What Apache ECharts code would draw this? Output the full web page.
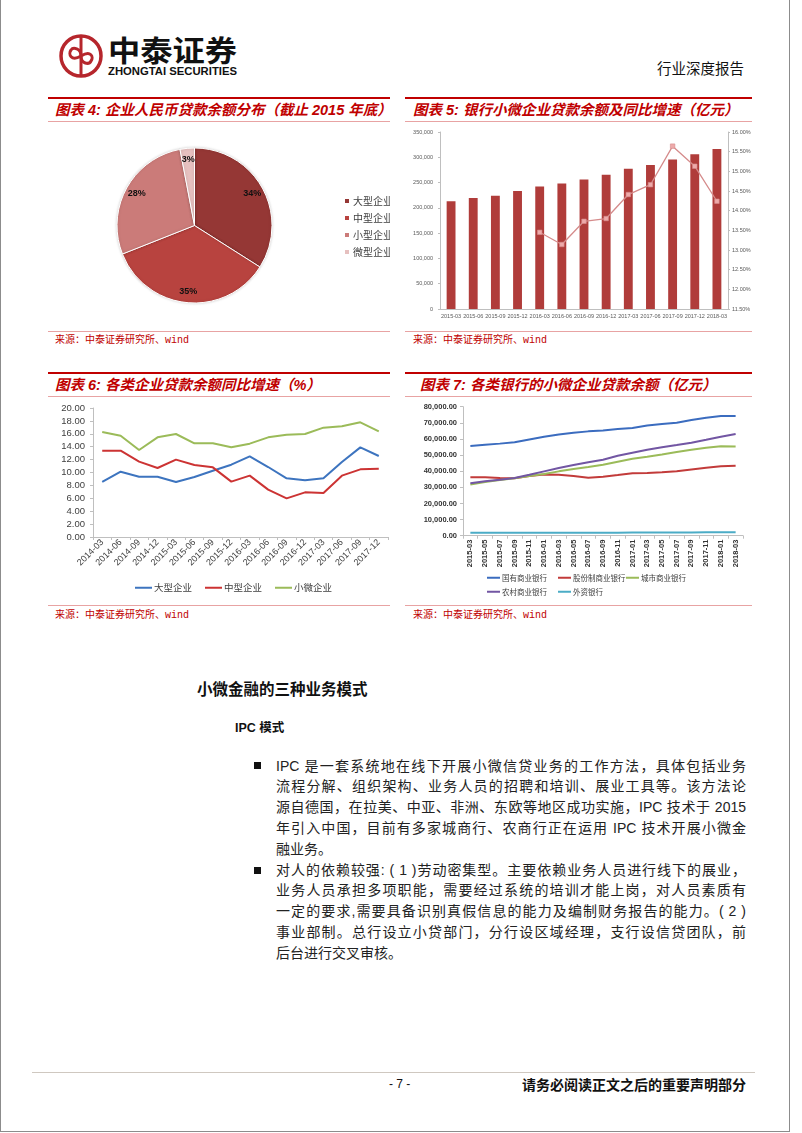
<!DOCTYPE html>
<html><head><meta charset="utf-8">
<script src="https://cdn.jsdelivr.net/npm/echarts@6/dist/echarts.min.js"></script>
<style>
html,body{margin:0;padding:0;}
body{width:802px;height:1133px;position:relative;background:#fff;overflow:hidden;font-family:"Liberation Sans","Noto Sans CJK SC",sans-serif;}
.frame{position:absolute;left:0;top:0;width:790px;height:1132px;border-left:1px solid #8c8c8c;border-right:1px solid #8c8c8c;border-bottom:1px solid #8c8c8c;box-sizing:border-box;}
.redline{position:absolute;height:2px;background:#c00000;}
.pinkline{position:absolute;height:1px;background:#e8a3a3;}
.title{position:absolute;color:#c00000;font-weight:bold;font-style:italic;font-size:14.5px;line-height:18px;white-space:nowrap;font-family:"Liberation Sans","Noto Sans CJK SC",sans-serif;}
.src{position:absolute;color:#c00000;font-size:10px;line-height:12px;white-space:nowrap;font-family:"Liberation Mono","Noto Sans CJK SC",sans-serif;}
.chart{position:absolute;}
.ln{position:absolute;left:276px;width:470px;font-size:14px;line-height:21px;height:21px;text-align:justify;text-align-last:justify;color:#222;font-family:"Liberation Sans","Noto Sans CJK SC",sans-serif;}
.ln.last{text-align-last:left;}
.bullet{position:absolute;left:254px;width:7px;height:7px;background:#111;}
</style>
</head>
<body>
<div class="frame"></div>

<!-- header logo -->
<svg style="position:absolute;left:40px;top:25px" width="230" height="60">
  <circle cx="41" cy="31" r="20" fill="none" stroke="#b6262c" stroke-width="3.5"/>
  <line x1="41" y1="12" x2="41" y2="50" stroke="#b6262c" stroke-width="3"/>
  <path d="M41 31 C41 23 33 22 31 25 C28 29 31 37 41 31 C51 25 54 32 51 36 C49 40 41 39 41 31" fill="none" stroke="#b6262c" stroke-width="3"/>
  <text x="68" y="37" font-size="29" font-weight="bold" fill="#111" textLength="129" lengthAdjust="spacingAndGlyphs" font-family="Noto Sans CJK SC">中泰证券</text>
  <text x="68" y="50" font-size="10" font-weight="bold" fill="#111" textLength="129" lengthAdjust="spacingAndGlyphs" font-family="Liberation Sans">ZHONGTAI SECURITIES</text>
</svg>
<div style="position:absolute;left:657px;top:59px;font-size:14.5px;line-height:18px;color:#111;font-family:'Noto Sans CJK SC';">行业深度报告</div>

<!-- panel decorations -->
<div class="redline" style="left:48px;top:97px;width:342px;"></div>
<div class="redline" style="left:405px;top:97px;width:347px;"></div>
<div class="title" style="left:55px;top:101px;">图表 4:&nbsp;企业人民币贷款余额分布（截止 2015 年底）</div>
<div class="title" style="left:413px;top:101px;">图表 5:&nbsp;银行小微企业贷款余额及同比增速（亿元）</div>
<div class="pinkline" style="left:48px;top:121px;width:342px;"></div>
<div class="pinkline" style="left:405px;top:121px;width:347px;"></div>
<div class="pinkline" style="left:48px;top:331px;width:342px;"></div>
<div class="pinkline" style="left:405px;top:331px;width:347px;"></div>
<div class="src" style="left:55px;top:335px;">来源：中泰证券研究所、wind</div>
<div class="src" style="left:413px;top:335px;">来源：中泰证券研究所、wind</div>

<div class="redline" style="left:48px;top:372px;width:342px;"></div>
<div class="redline" style="left:405px;top:372px;width:347px;"></div>
<div class="title" style="left:55px;top:376px;">图表 6:&nbsp;各类企业贷款余额同比增速（%）</div>
<div class="title" style="left:420px;top:376px;">图表 7:&nbsp;各类银行的小微企业贷款余额（亿元）</div>
<div class="pinkline" style="left:48px;top:396px;width:342px;"></div>
<div class="pinkline" style="left:405px;top:396px;width:347px;"></div>
<div class="pinkline" style="left:48px;top:605px;width:342px;"></div>
<div class="pinkline" style="left:405px;top:605px;width:347px;"></div>
<div class="src" style="left:55px;top:610px;">来源：中泰证券研究所、wind</div>
<div class="src" style="left:413px;top:610px;">来源：中泰证券研究所、wind</div>

<div id="c4" class="chart" style="left:48px;top:125px;width:342px;height:200px;"></div>
<div id="c5" class="chart" style="left:405px;top:125px;width:365px;height:200px;"></div>
<div id="c6" class="chart" style="left:48px;top:398px;width:342px;height:205px;"></div>
<div id="c7" class="chart" style="left:405px;top:398px;width:365px;height:205px;"></div>

<!-- body text -->
<div style="position:absolute;left:197px;top:678px;font-size:15.5px;line-height:20px;font-weight:bold;color:#111;font-family:'Noto Sans CJK SC';white-space:nowrap;">小微金融的三种业务模式</div>
<div style="position:absolute;left:235px;top:719px;font-size:12.5px;line-height:18px;font-weight:bold;color:#111;font-family:'Liberation Sans','Noto Sans CJK SC';white-space:nowrap;">IPC 模式</div>

<div class="bullet" style="top:762px;"></div>
<div class="ln" style="top:755.5px;">IPC 是一套系统地在线下开展小微信贷业务的工作方法，具体包括业务</div>
<div class="ln" style="top:776.3px;">流程分解、组织架构、业务人员的招聘和培训、展业工具等。该方法论</div>
<div class="ln" style="top:797.1px;">源自德国，在拉美、中亚、非洲、东欧等地区成功实施，IPC 技术于 2015</div>
<div class="ln" style="top:817.9px;">年引入中国，目前有多家城商行、农商行正在运用 IPC 技术开展小微金</div>
<div class="ln last" style="top:838.7px;">融业务。</div>
<div class="bullet" style="top:866.5px;"></div>
<div class="ln" style="top:859.5px;">对人的依赖较强: ( 1 )劳动密集型。主要依赖业务人员进行线下的展业，</div>
<div class="ln" style="top:880.3px;">业务人员承担多项职能，需要经过系统的培训才能上岗，对人员素质有</div>
<div class="ln" style="top:901.1px;">一定的要求,需要具备识别真假信息的能力及编制财务报告的能力。( 2 )</div>
<div class="ln" style="top:921.9px;">事业部制。总行设立小贷部门，分行设区域经理，支行设信贷团队，前</div>
<div class="ln last" style="top:942.7px;">后台进行交叉审核。</div>

<!-- footer -->
<div style="position:absolute;left:32px;top:1072px;width:723px;height:1px;background:#cfc8c0;"></div>
<div style="position:absolute;left:389px;top:1076px;font-size:12px;line-height:16px;color:#111;white-space:nowrap;">- 7 -</div>
<div style="position:absolute;left:522px;top:1075px;font-size:14px;line-height:18px;font-weight:bold;color:#111;font-family:'Noto Sans CJK SC';white-space:nowrap;">请务必阅读正文之后的重要声明部分</div>

<script>
// ---------- data ----------
const pieNames = ['大型企业', '中型企业', '小型企业', '微型企业'];
const pieValues = [34, 35, 28, 3];

const c5Cats = ['2015-03','2015-06','2015-09','2015-12','2016-03','2016-06','2016-09','2016-12','2017-03','2017-06','2017-09','2017-12','2018-03'];
const c5Loans = [213000, 219500, 224000, 233500, 242000, 248000, 256000, 265500, 277500, 284500, 295500, 306000, 316500];
const c5Growth = [null, null, null, null, 13.45, 13.14, 13.73, 13.80, 14.41, 14.66, 15.64, 15.13, 14.24];

const c6Cats = ['2014-03','2014-06','2014-09','2014-12','2015-03','2015-06','2015-09','2015-12','2016-03','2016-06','2016-09','2016-12','2017-03','2017-06','2017-09','2017-12'];
const c6Names = ['大型企业', '中型企业', '小微企业'];
const c6Large = [8.53, 10.13, 9.35, 9.35, 8.53, 9.30, 10.28, 11.21, 12.51, 10.85, 9.10, 8.79, 9.10, 11.63, 13.90, 12.56];
const c6Medium = [13.38, 13.38, 11.68, 10.70, 11.99, 11.16, 10.80, 8.58, 9.51, 7.34, 5.99, 6.92, 6.82, 9.51, 10.49, 10.59];
const c6Small = [16.28, 15.71, 13.49, 15.45, 15.97, 14.52, 14.52, 13.90, 14.47, 15.45, 15.86, 15.97, 16.95, 17.16, 17.78, 16.38];

const c7Cats = ['2015-03','2015-05','2015-07','2015-09','2015-11','2016-01','2016-03','2016-05','2016-07','2016-09','2016-11','2017-01','2017-03','2017-05','2017-07','2017-09','2017-11','2018-01','2018-03'];
const c7Names = ['国有商业银行', '股份制商业银行', '城市商业银行', '农村商业银行', '外资银行'];
const c7State = [55600, 56400, 57100, 57900, 59700, 61400, 62800, 63900, 64700, 65300, 66200, 66800, 68400, 69300, 70100, 71700, 73200, 74200, 74300];
const c7JointStock = [36200, 36200, 35800, 35600, 37000, 38000, 37800, 37000, 36000, 36600, 37600, 38700, 38900, 39300, 39900, 41100, 42200, 43000, 43400];
const c7City = [31800, 33300, 34500, 35600, 37000, 38200, 39900, 41300, 42600, 44000, 45900, 47700, 49000, 50400, 51900, 53300, 54600, 55400, 55300];
const c7Rural = [32500, 33700, 34700, 35800, 37800, 39900, 42000, 43800, 45500, 47100, 49600, 51500, 53300, 54800, 56200, 57700, 59500, 61400, 63100];
const c7Foreign = [1900, 1900, 1850, 1850, 1850, 1800, 1850, 1850, 1900, 1900, 1900, 1950, 1950, 2000, 2000, 2050, 2100, 2150, 2200];

// ---------- styles ----------
const CJK = '"Noto Sans CJK SC", sans-serif';
const LAT = '"Liberation Sans", "Noto Sans CJK SC", sans-serif';
const pieColors = ['#953735', '#b8433f', '#cb7b79', '#e6c0bf'];

// ---------- chart 4: pie ----------
const pieData = pieNames.map((n, i) => ({ name: n, value: pieValues[i] }));
echarts.init(document.getElementById('c4')).setOption({
  animation: false,
  color: pieColors,
  legend: {
    orient: 'vertical', left: 290, top: 65, icon: 'rect',
    itemWidth: 6, itemHeight: 6, itemGap: 5,
    textStyle: { fontSize: 10, color: '#404040', lineHeight: 12, fontFamily: CJK, padding: [0, 0, 0, -2] },
    data: pieNames
  },
  series: [
    {
      type: 'pie', radius: 77.5, center: [146.5, 100.5], startAngle: 90, clockwise: true,
      silent: true, data: pieData, label: { show: false }, labelLine: { show: false },
      itemStyle: { borderColor: '#fff', borderWidth: 1, shadowBlur: 3, shadowColor: 'rgba(0,0,0,0.18)' }
    },
    {
      type: 'pie', radius: 126, center: [146.5, 100.5], startAngle: 90, clockwise: true,
      silent: true, legendHoverLink: false, data: pieData,
      itemStyle: { color: 'rgba(0,0,0,0)', borderWidth: 0 }, labelLine: { show: false },
      label: { show: true, position: 'inside', formatter: p => p.value + '%', fontSize: 9, fontWeight: 'bold', color: '#111', fontFamily: LAT, textBorderWidth: 0 }
    }
  ]
});

// ---------- chart 5: bar + line ----------
const axGray = '#bfbfbf';
echarts.init(document.getElementById('c5')).setOption({
  animation: false,
  grid: { left: 35, right: 42, top: 7, bottom: 16 },
  xAxis: {
    type: 'category', data: c5Cats,
    axisLine: { lineStyle: { color: axGray } }, axisTick: { show: false },
    axisLabel: { fontSize: 5.5, color: '#595959', margin: 5, interval: 0, fontFamily: LAT }
  },
  yAxis: [
    {
      type: 'value', min: 0, max: 350000, interval: 50000,
      axisLine: { show: true, lineStyle: { color: axGray } }, axisTick: { show: true, length: 2, lineStyle: { color: axGray } },
      splitLine: { show: false },
      axisLabel: { fontSize: 5.5, color: '#595959', margin: 7, fontFamily: LAT, formatter: v => v.toLocaleString('en-US') }
    },
    {
      type: 'value', min: 11.5, max: 16, interval: 0.5, position: 'right',
      axisLine: { show: true, lineStyle: { color: axGray } }, axisTick: { show: true, length: 2, lineStyle: { color: axGray } },
      splitLine: { show: false },
      axisLabel: { fontSize: 5.5, color: '#595959', margin: 4, fontFamily: LAT, formatter: v => v.toFixed(2) + '%' }
    }
  ],
  series: [
    { type: 'bar', data: c5Loans, barWidth: '40%', itemStyle: { color: '#b03c3a' } },
    {
      type: 'line', yAxisIndex: 1, data: c5Growth, symbol: 'rect', symbolSize: 4.5,
      lineStyle: { color: '#d58b8b', width: 1.3 },
      itemStyle: { color: '#eeaaaa', borderColor: '#d58b8b', borderWidth: 0.6 }
    }
  ]
});

// ---------- chart 6: lines ----------
const c6Colors = ['#3d74bf', '#cc3333', '#9bbb59'];
echarts.init(document.getElementById('c6')).setOption({
  animation: false,
  color: c6Colors,
  grid: { left: 45, right: 2, top: 10, bottom: 66 },
  legend: {
    left: 82, top: 180, icon: 'rect', itemWidth: 17, itemHeight: 2, itemGap: 13,
    textStyle: { fontSize: 9.5, color: '#404040', fontFamily: CJK, padding: [0, 0, 0, -3] },
    data: c6Names
  },
  xAxis: {
    type: 'category', data: c6Cats,
    axisLine: { lineStyle: { color: axGray } }, axisTick: { show: true, length: 3, lineStyle: { color: axGray } },
    axisLabel: { rotate: 45, fontSize: 9, color: '#404040', margin: 4, interval: 0, fontFamily: LAT }
  },
  yAxis: {
    type: 'value', min: 0, max: 20, interval: 2,
    axisLine: { show: true, lineStyle: { color: axGray } }, axisTick: { show: true, length: 3, lineStyle: { color: axGray } },
    splitLine: { show: false },
    axisLabel: { fontSize: 9.5, color: '#404040', margin: 8, fontFamily: LAT, formatter: v => v.toFixed(2) }
  },
  series: [
    { name: c6Names[0], type: 'line', data: c6Large, symbol: 'none', lineStyle: { width: 2 } },
    { name: c6Names[1], type: 'line', data: c6Medium, symbol: 'none', lineStyle: { width: 2 } },
    { name: c6Names[2], type: 'line', data: c6Small, symbol: 'none', lineStyle: { width: 2 } }
  ]
});

// ---------- chart 7: lines ----------
const c7Colors = ['#3b6cbf', '#c23b3a', '#9bbb59', '#7256a3', '#4bacc6'];
const c7Series = [c7State, c7JointStock, c7City, c7Rural, c7Foreign];
const c7LegendPos = [[77, 171], [148, 171], [216, 171], [77, 185], [148, 185]];
echarts.init(document.getElementById('c7')).setOption({
  animation: false,
  color: c7Colors,
  grid: { left: 58, right: 27, top: 8.7, bottom: 67.3 },
  legend: c7Names.map((n, i) => ({
    left: c7LegendPos[i][0], top: c7LegendPos[i][1], icon: 'rect', itemWidth: 13, itemHeight: 2,
    textStyle: { fontSize: 7.5, color: '#404040', fontFamily: CJK, padding: [0, 0, 0, -3] },
    data: [n]
  })),
  xAxis: {
    type: 'category', data: c7Cats,
    axisLine: { lineStyle: { color: axGray } }, axisTick: { show: true, length: 3, lineStyle: { color: axGray } },
    axisLabel: { rotate: 90, fontSize: 7.5, color: '#333', margin: 4, interval: 0, fontWeight: 'bold', fontFamily: LAT }
  },
  yAxis: {
    type: 'value', min: 0, max: 80000, interval: 10000,
    axisLine: { show: true, lineStyle: { color: axGray } }, axisTick: { show: true, length: 3, lineStyle: { color: axGray } },
    splitLine: { show: false },
    axisLabel: { fontSize: 7.5, color: '#333', margin: 6, fontWeight: 'bold', fontFamily: LAT,
      formatter: v => v.toLocaleString('en-US', { minimumFractionDigits: 2, maximumFractionDigits: 2 }) }
  },
  series: c7Names.map((n, i) => ({ name: n, type: 'line', data: c7Series[i], symbol: 'none', lineStyle: { width: 2 } }))
});
</script>
</body></html>
